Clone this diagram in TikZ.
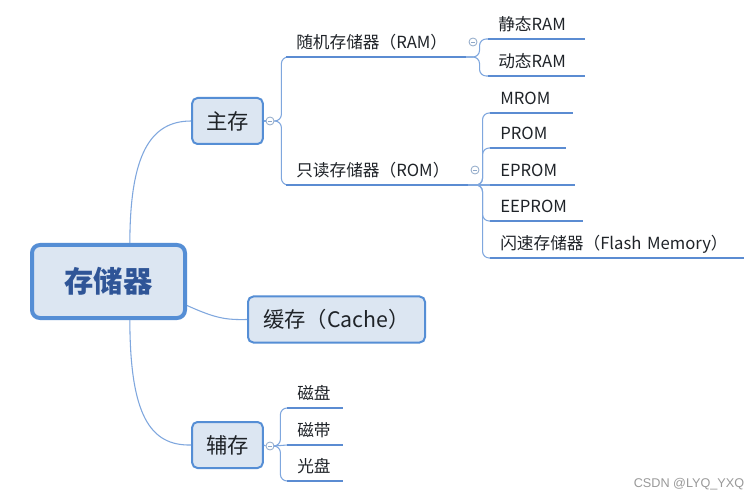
\documentclass[tikz,border=0pt]{standalone}
\usepackage{fontspec}
\setmainfont{Noto Sans CJK SC}
\newfontfamily\wmfont{Liberation Sans}
\definecolor{boxfill}{HTML}{DCE6F2}
\definecolor{boxline}{HTML}{558ED5}
\definecolor{ulcol}{HTML}{5B8CD2}
\definecolor{conncol}{HTML}{7FA7DE}
\definecolor{dotcol}{HTML}{8FA8C8}
\definecolor{txt}{HTML}{1F2328}
\definecolor{roottxt}{HTML}{2F5597}
\begin{document}
\begin{tikzpicture}[x=0.75pt,y=-0.75pt,
    box/.style={draw=boxline, fill=boxfill, rounded corners=4pt, line width=1.5pt, inner sep=0pt,
        minimum width=53pt, minimum height=34.5pt, text=txt, font=\fontsize{16}{19}\selectfont},
    leaf/.style={anchor=south west, inner xsep=7.5pt, inner ysep=0pt, text depth=6pt, align=left,
        text=txt, font=\fontsize{12.5}{15}\selectfont},
    uline/.style={draw=ulcol, line width=2.2pt},
    conn/.style={draw=conncol, line width=0.8pt, rounded corners=5pt},
    fold/.style={circle, draw=dotcol, fill=white, line width=0.6pt, minimum size=6pt, inner sep=0pt,
        path picture={\draw[dotcol, line width=0.6pt] ([xshift=-1.6pt]path picture bounding box.center)
            -- ([xshift=1.6pt]path picture bounding box.center);}}]
    \fill[white] (0,0) rectangle (753,502);
    \useasboundingbox (0,0) rectangle (753,502);

    \node[box, line width=3pt, rounded corners=6pt, minimum width=114.75pt, minimum height=54.75pt,
        text=roottxt, font=\fontsize{22}{26}\selectfont\bfseries] (root) at (108.5,281.5) {存储器};
    \node[box] (ms) at (227.5,121) {主存};
    \node[box, minimum width=132.75pt] (hc) at (336.5,319.5) {缓存（Cache）};
    \node[box] (fc) at (227.5,445) {辅存};

    \node[fold] (msdot) at (270,121) {};
    \node[fold] (fcdot) at (270,446) {};
    \node[fold] (ramdot) at (473,42) {};
    \node[fold] (romdot) at (475,170) {};

    \node[leaf, text width=119.25pt] (ram) at (286,57) {随机存储器（RAM）};
    \node[leaf, text width=120.75pt] (rom) at (286,185) {只读存储器（ROM）};
    \node[leaf, text width=57pt] (jt) at (488,39) {静态RAM};
    \node[leaf, text width=57pt] (dt) at (488,76) {动态RAM};
    \node[leaf, text width=46.5pt] (mrom) at (490,113) {MROM};
    \node[leaf, text width=41.25pt] (prom) at (490,148) {PROM};
    \node[leaf, text width=48pt] (eprom) at (490,185) {EPROM};
    \node[leaf, text width=54pt] (eeprom) at (490,221) {EEPROM};
    \node[leaf, text width=174.75pt] (flash) at (490,258) {闪速存储器（Flash Memory）};
    \node[leaf, text width=26.25pt] (cp) at (287,408) {磁盘};
    \node[leaf, text width=26.25pt] (cd) at (287,445) {磁带};
    \node[leaf, text width=26.25pt] (gp) at (287,481) {光盘};

    \draw[conn] (root.61) .. controls (130,155) and (150,121) .. (ms.west);
    \draw[conn] (root.-17) .. controls (215,318) and (225,320) .. (hc.west);
    \draw[conn] (root.-61) .. controls (130,415) and (150,446) .. (fc.west);

    \draw[conn] (ms.east) -- (msdot.west);
    \draw[conn] (msdot.east) -- ++(7,0) |- (ram.south west);
    \draw[conn] (msdot.east) -- ++(7,0) |- (rom.south west);
    \draw[conn] (ram.south east) -- ++(14,0) |- (jt.south west);
    \draw[conn] (ram.south east) -- ++(14,0) |- (dt.south west);
    \foreach \n in {mrom,prom,eeprom,flash}
        \draw[conn] (rom.south east) -- ++(15,0) |- (\n.south west);
    \draw[conn] (rom.south east) -- (eprom.south west);
    \draw[conn] (fc.east) -- (fcdot.west);
    \foreach \n in {cp,gp}
        \draw[conn] (fcdot.east) -- ++(6,0) |- (\n.south west);
    \draw[conn] (fcdot.east) -- (cd.south west);

    \foreach \n in {ram,rom,jt,dt,mrom,prom,eprom,eeprom,flash,cp,cd,gp}
        \draw[uline] (\n.south west) -- (\n.south east);

    \node[text=gray!80, font=\wmfont\fontsize{9.5}{11}\selectfont] (mark) at (689,484) {CSDN @LYQ\_YXQ};
\end{tikzpicture}
\end{document}
